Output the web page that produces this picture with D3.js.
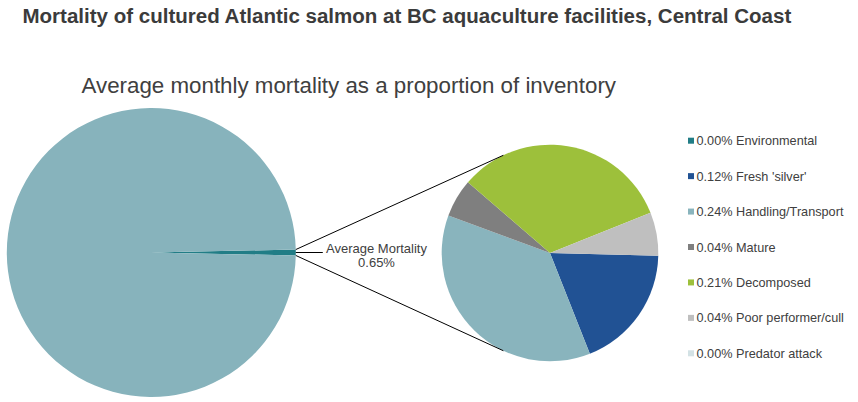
<!DOCTYPE html>
<html>
<head>
<meta charset="utf-8">
<script src="https://cdn.jsdelivr.net/npm/d3@7"></script>
<style>
  html, body { margin: 0; padding: 0; background: #fff; }
  svg { display: block; font-family: "Liberation Sans", Arial, sans-serif; }
</style>
</head>
<body>
<svg id="chart" width="858" height="402"></svg>
<script>
// ---- data ----
const titleText = "Mortality of cultured Atlantic salmon at BC aquaculture facilities, Central Coast";
const subtitleText = "Average monthly mortality as a proportion of inventory";
const categories = ["Environmental", "Fresh 'silver'", "Handling/Transport", "Mature", "Decomposed", "Poor performer/cull", "Predator attack"];
const values = [0.000, 0.121, 0.238, 0.037, 0.212, 0.042, 0.000]; // % of inventory per month
const colors = ["#217d86", "#215294", "#89b4bd", "#7f7f7f", "#9dc03b", "#bfbfbf", "#d3e2e5"];
const primaryLabels = ["Average Mortality", "Remaining inventory"];
const primaryColors = ["#217d86", "#87b3bc"];
const mortalityLabel = "Average Mortality";

const svg = d3.select("#chart");
const total = d3.sum(values);
const primaryValues = [total, 100 - total];

// ---- titles ----
function fitText(sel, target) {
  const w = sel.node().getComputedTextLength();
  const fs = parseFloat(sel.attr("font-size"));
  sel.attr("font-size", fs * target / w);
}
const t = svg.append("text").attr("x", 22.5).attr("y", 23.3)
  .attr("font-size", 20).attr("font-weight", "bold").attr("fill", "#3b3b3b").text(titleText);
fitText(t, 769);
const st = svg.append("text").attr("x", 81.5).attr("y", 93.3)
  .attr("font-size", 22).attr("fill", "#404040").text(subtitleText);
fitText(st, 535);

// ---- primary pie ----
const pc = [151.3, 252.5], pr = 144.5;
const mortAngle = 2 * Math.PI * primaryValues[0] / 100;
const pie1 = d3.pie().sort(null).value(d => d)
  .startAngle(Math.PI / 2 - mortAngle / 2).endAngle(Math.PI / 2 - mortAngle / 2 + 2 * Math.PI);
const arc1 = d3.arc().innerRadius(0).outerRadius(pr);
const g1 = svg.append("g").attr("transform", `translate(${pc[0]},${pc[1]})`);
const arcs1 = pie1(primaryValues);
g1.selectAll("path").data(arcs1).join("path")
  .attr("d", arc1).attr("fill", (d, i) => primaryColors[i]);

// ---- secondary pie ----
const sc = [550, 253], sr = 108.3;
const startA = Math.PI / 2 + 1.4 * Math.PI / 180;
const pie2 = d3.pie().sort(null).value(d => d).startAngle(startA).endAngle(startA + 2 * Math.PI);
const arc2 = d3.arc().innerRadius(0).outerRadius(sr);
const g2 = svg.append("g").attr("transform", `translate(${sc[0]},${sc[1]})`);
g2.selectAll("path").data(pie2(values)).join("path")
  .attr("d", arc2).attr("fill", (d, i) => colors[i]);

// ---- connector lines ----
const a0 = arcs1[0].startAngle, a1 = arcs1[0].endAngle;
const pt = (c, r, a) => [c[0] + r * Math.sin(a), c[1] - r * Math.cos(a)];
const conAng = 25.5 * Math.PI / 180;
const topP = pt(sc, sr, -conAng), botP = pt(sc, sr, Math.PI + conAng);
svg.append("line")
  .attr("x1", pt(pc, pr, a0)[0]).attr("y1", pt(pc, pr, a0)[1])
  .attr("x2", topP[0]).attr("y2", topP[1])
  .attr("stroke", "#000").attr("stroke-width", 1);
svg.append("line")
  .attr("x1", pt(pc, pr, a1)[0]).attr("y1", pt(pc, pr, a1)[1])
  .attr("x2", botP[0]).attr("y2", botP[1])
  .attr("stroke", "#000").attr("stroke-width", 1);

// ---- data label ----
const edge = pt(pc, pr, (a0 + a1) / 2);
svg.append("line").attr("x1", edge[0]).attr("y1", edge[1]).attr("x2", edge[0] + 27).attr("y2", edge[1])
  .attr("stroke", "#000").attr("stroke-width", 1);
const lab = svg.append("text").attr("text-anchor", "middle").attr("font-size", 13).attr("fill", "#404040");
lab.append("tspan").attr("x", 376.5).attr("y", 253.3).text(mortalityLabel);
lab.append("tspan").attr("x", 376.5).attr("y", 267.3).text(d3.format(".2f")(total) + "%");

// ---- legend ----
const ly = d3.scalePoint().domain(categories).range([140.7, 353.3]);
const lg = svg.append("g");
const items = lg.selectAll("g").data(categories).join("g")
  .attr("transform", d => `translate(688,${ly(d)})`);
items.append("rect").attr("x", 0).attr("y", -3).attr("width", 6).attr("height", 6)
  .attr("fill", (d, i) => colors[i]);
items.append("text").attr("x", 8.5).attr("y", 4.5).attr("font-size", 12.7).attr("fill", "#404040")
  .text((d, i) => d3.format(".2f")(values[i]) + "% " + d);
</script>
</body>
</html>
